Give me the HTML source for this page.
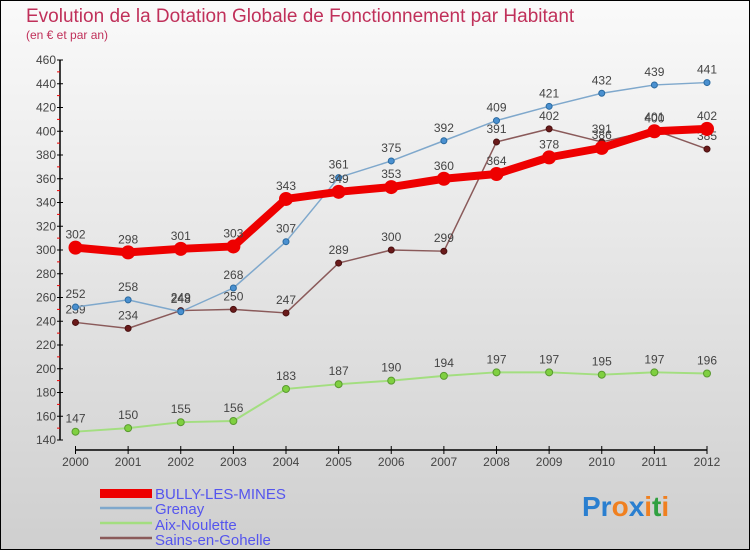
<!DOCTYPE html>
<html><head><meta charset="utf-8"><style>
body{margin:0}
svg text{font-family:"Liberation Sans",sans-serif}
</style></head><body>
<svg id="c" width="750" height="550" xmlns="http://www.w3.org/2000/svg">
<defs><linearGradient id="bg" x1="0" y1="0" x2="0" y2="1"><stop offset="0" stop-color="#fafafa"/><stop offset="1" stop-color="#cfcfcf"/></linearGradient></defs>
<rect x="0.5" y="0.5" width="749" height="549" fill="url(#bg)" stroke="#000"/>
<text x="26" y="22" font-size="19" fill="#c0305a">Evolution de la Dotation Globale de Fonctionnement par Habitant</text>
<text x="26" y="39" font-size="12" fill="#c0305a">(en € et par an)</text>
<g id="axes"></g><g id="series"></g>
<g>
<rect x="100" y="489" width="52" height="9" fill="#e00"/>
<text x="155" y="499" font-size="15" fill="#5555ee">BULLY-LES-MINES</text>
<line x1="100" y1="508" x2="152" y2="508" stroke="#7fa8cc" stroke-width="2.5"/>
<text x="155" y="514" font-size="15" fill="#5555ee">Grenay</text>
<line x1="100" y1="523" x2="152" y2="523" stroke="#a3de80" stroke-width="2.5"/>
<text x="155" y="530" font-size="15" fill="#5555ee">Aix-Noulette</text>
<line x1="100" y1="538" x2="152" y2="538" stroke="#8a5a5a" stroke-width="2.5"/>
<text x="155" y="545" font-size="15" fill="#5555ee">Sains-en-Gohelle</text>
</g>
<text x="582" y="516" font-size="28" font-weight="bold"><tspan fill="#2a7fd0">Pr</tspan><tspan fill="#f08020">o</tspan><tspan fill="#2a7fd0">x</tspan><tspan fill="#f08020">i</tspan><tspan fill="#30a040">t</tspan><tspan fill="#f08020">i</tspan></text>
</svg>
<script>
const years=[2000,2001,2002,2003,2004,2005,2006,2007,2008,2009,2010,2011,2012];
const bully=[302,298,301,303,343,349,353,360,364,378,386,400,402];
const grenay=[252,258,248,268,307,361,375,392,409,421,432,439,441];
const aix=[147,150,155,156,183,187,190,194,197,197,195,197,196];
const sains=[239,234,249,250,247,289,300,299,391,402,391,401,385];
const yTicks=[140,160,180,200,220,240,260,280,300,320,340,360,380,400,420,440,460];
const NS="http://www.w3.org/2000/svg";
const X=i=>75.5+i*(707-75.5)/12;
const Y=v=>60+(460-v)*380/320;
function mk(t,a,p){const e=document.createElementNS(NS,t);for(const k in a)e.setAttribute(k,a[k]);p.appendChild(e);return e;}
const ax=document.getElementById('axes');
let yl=mk('line',{x1:60,y1:Y(460),x2:60,y2:Y(140),stroke:'#000','stroke-width':1.5},ax);


let xl=mk('line',{x1:75.5,y1:450,x2:707,y2:450,stroke:'#000','stroke-width':1.5},ax);


yTicks.forEach(v=>{
 mk('line',{x1:57,y1:Y(v),x2:63,y2:Y(v),stroke:'#000'},ax);
 if(v<460)mk('line',{x1:57,y1:Y(v+10),x2:60,y2:Y(v+10),stroke:'#e00'},ax);
 const t=mk('text',{x:56,y:Y(v)+4,'font-size':12,fill:'#444','text-anchor':'end'},ax);t.textContent=v;
 
 
});
years.forEach((y,i)=>{
 mk('line',{x1:X(i),y1:446,x2:X(i),y2:454,stroke:'#000'},ax);
 const t=mk('text',{x:X(i),y:466,'font-size':12,fill:'#444','text-anchor':'middle'},ax);t.textContent=y;
 
 
});
const sg=document.getElementById('series');
function draw(name,data,color,w,r,fill,stroke){
 const g=mk('g',{},sg);
 
 
 mk('polyline',{points:data.map((v,i)=>X(i)+','+Y(v)).join(' '),fill:'none',stroke:color,'stroke-width':w,'stroke-linejoin':'round'},g);
 data.forEach((v,i)=>{
  const c=mk('circle',{cx:X(i),cy:Y(v),r:r,fill:fill,stroke:stroke},g);
  
  
  const t=mk('text',{x:X(i),y:Y(v)-9,'font-size':12,fill:'#444','text-anchor':'middle'},g);t.textContent=v;
  
  
 });
}
draw('aix',aix,'#a3de80',2,3.5,'#7fd040','#5a9a30');
draw('sains',sains,'#8a5a5a',1.5,3,'#6a1a1a','#4a1010');
draw('grenay',grenay,'#7fa8cc',1.5,3,'#4a90d0','#2a6aa0');
draw('bully',bully,'#e00',8,6.5,'#e00','#e00');
</script>
</body></html>
